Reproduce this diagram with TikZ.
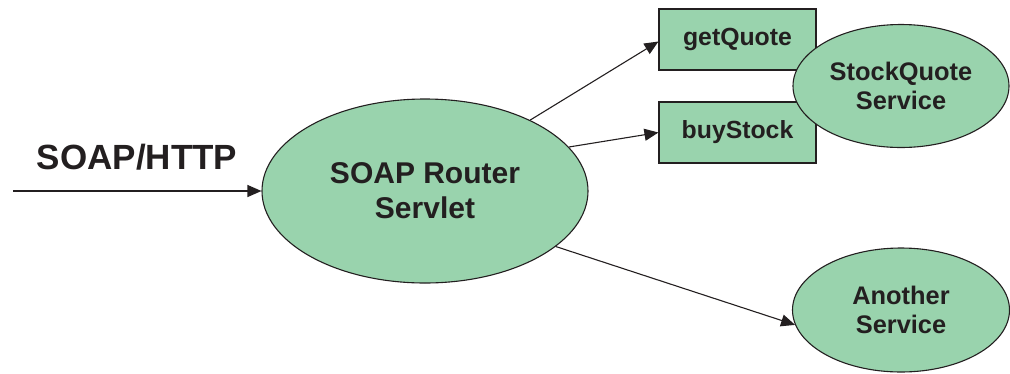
\documentclass[tikz,border=0pt]{standalone}
\usepackage{fontspec}
\setmainfont{Liberation Sans}
\usetikzlibrary{shapes.geometric,arrows.meta}
\definecolor{nodegreen}{RGB}{153,211,173}
\definecolor{inkdark}{RGB}{35,31,32}
\tikzset{
  oval/.style={ellipse, draw=inkdark, line width=1.1pt, fill=nodegreen, inner sep=0pt, align=center, text=inkdark},
  opbox/.style={rectangle, draw=inkdark, line width=1.1pt, fill=nodegreen, inner sep=0pt, minimum width=157pt, minimum height=61pt, text=inkdark, font=\fontsize{24.8}{28}\bfseries},
  conn/.style={draw=inkdark, line width=1.1pt, -{Triangle[length=14pt,width=12pt]}}
}
\begin{document}
\begin{tikzpicture}[x=1pt,y=-1pt]
\useasboundingbox (0,0) rectangle (1010,373);
\node[opbox] (gq) at (737.5,39.5) {getQuote};
\node[opbox] (bs) at (737.5,132.5) {buyStock};
\node[oval, minimum width=216pt, minimum height=123pt, font=\fontsize{25.4}{28.5}\bfseries] (sq) at (901,86) {StockQuote\\Service};
\node[oval, minimum width=217pt, minimum height=124pt, font=\fontsize{25.4}{28.5}\bfseries] (as) at (901,310) {Another\\Service};
\node[oval, minimum width=326pt, minimum height=184pt, font=\fontsize{30}{35}\bfseries] (router) at (425,191) {SOAP Router\\Servlet};
\node[text=inkdark, font=\fontsize{35}{40}\bfseries, inner sep=0pt] (lbl) at (137,157) {SOAP/HTTP};
\coordinate (src) at (13,191);
\draw[conn] (src) -- (router.west);
\draw[conn] (router.34.8) -- ([yshift=-2pt]gq.west);
\draw[conn] (router.17.6) -- (bs.west);
\draw[conn] (router.-23) -- (as.188);
\end{tikzpicture}
\end{document}
